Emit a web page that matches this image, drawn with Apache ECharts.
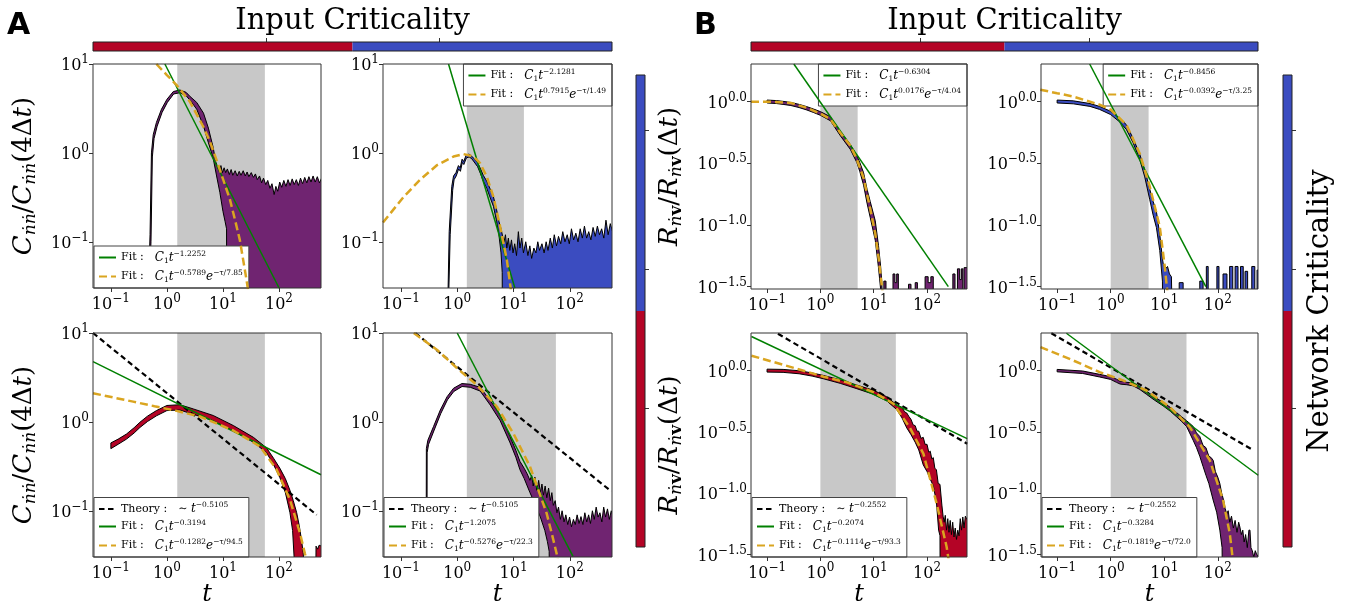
<!DOCTYPE html>
<html>
<head>
<meta charset="utf-8">
<script src="https://cdn.jsdelivr.net/npm/echarts@6.0.0/dist/echarts.min.js"></script>
<style>
  html, body { margin: 0; padding: 0; background: #fff; }
  #chart { width: 1351px; height: 616px; }
</style>
</head>
<body>
<div id="chart"></div>
<script>
var SERIF = 'DejaVu Serif';
var cRed = '#b40426', cBlue = '#3b4cc0', cPurple = '#702471';
var cGreen = '#008000', cGold = '#daa520', cSpan = '#c8c8c8';

// tick positions, as powers of ten
var xTickExp = [-1, 0, 1, 2];
var aYTickExp = [-1, 0, 1];
var bYTickExp = [-1.5, -1.0, -0.5, 0.0];

// numbers printed in the legends
var aPowExp = ['-1.2252', '-2.1281', '-0.3194', '-1.2075'];
var aCutExp = ['-0.5789', '0.7915', '-0.1282', '-0.5276'];
var aTau = ['7.85', '1.49', '94.5', '22.3'];
var aTheoryExp = '-0.5105';
var bPowExp = ['-0.6304', '-0.8456', '-0.2074', '-0.3284'];
var bCutExp = ['0.0176', '-0.0392', '-0.1114', '-0.1819'];
var bTau = ['4.04', '3.25', '93.3', '72.0'];
var bTheoryExp = '-0.2552';

// fit windows (grey)
var aSpan = [[1.53, 56], [1.48, 15.3], [1.53, 56], [1.48, 56.6]];
var bSpan = [[1.0, 5.0], [1.0, 5.1], [1.0, 26], [1.0, 26]];

// colour bars: share of red / blue, tick places
var cbarShare = [0.5, 0.5];
var cbarHTicks = [1 / 3, 2 / 3];
var cbarVTicks = [0.294, 0.589, 0.883];

// ---- A, top left (purple): upper / lower edge of the band, fits ----
var a11Up = [[0.46,0.02],[0.50,0.12],[0.53,1.0],[0.57,1.6],[0.65,2.2],[0.80,3.1],[1.0,4.0],[1.3,4.9],[1.7,5.1],[2.2,4.8],[2.6,4.3],[3.4,3.7],[4.5,2.8],[5.5,1.9],[6.7,1.15],[7.4,0.8],
  [8.0,0.70],[8.6,0.62],[9.2,0.72],[9.8,0.60],[10.5,0.68],[11.2,0.60],[12.0,0.66],[13.0,0.57],[14,0.65],[15,0.56],[16.5,0.63],[18,0.55],[19.5,0.62],[21,0.56],[23,0.63],[25,0.55],[27,0.61],[29,0.54],[32,0.60],[35,0.53],[38,0.58],[41,0.50],[45,0.55],[49,0.46],[53,0.52],[58,0.44],[63,0.49],[69,0.40],[75,0.45],[82,0.34],[88,0.42],[95,0.37],[103,0.47],[112,0.41],[122,0.49],[133,0.42],[145,0.50],[158,0.43],[172,0.51],[187,0.44],[204,0.50],[222,0.43],[242,0.52],[264,0.45],[288,0.53],[314,0.46],[342,0.54],[373,0.47],[406,0.55],[443,0.47],[483,0.54],[527,0.46],[575,0.52]];
var a11Lo = [[0.47,0.02],[0.52,0.10],[0.55,0.9],[0.59,1.45],[0.67,2.0],[0.82,2.85],[1.02,3.7],[1.32,4.6],[1.7,4.75],[2.2,4.4],[2.6,3.9],[3.4,3.1],[4.5,2.0],[5.5,1.3],[6.7,0.87],[7.7,0.55],[8.8,0.36],[10,0.22],[10.9,0.17],[11.6,0.14],[11.7,0.001],[575,0.001]];
var a11Fit = [[0.92,10],[101,0.030]];
var a11Cut = [[0.65,10],[1.0,7.5],[1.49,5.8],[2.57,3.77],[4.45,1.98],[5.86,1.34],[7.7,0.83],[13.3,0.30],[16.4,0.177],[20,0.105],[26.4,0.037],[28,0.029]];

// ---- A, top right (blue) ----
var a12Up = [[0.68,0.02],[0.72,0.13],[0.80,0.42],[0.86,0.55],[0.95,0.60],[1.05,0.72],[1.13,0.68],[1.22,0.85],[1.30,0.80],[1.45,0.95],[1.62,0.97],[1.80,0.92],[2.0,0.86],[2.3,0.78],[2.6,0.66],[2.9,0.56],[3.35,0.48],[3.8,0.40],[4.4,0.32],[5.0,0.23],[5.5,0.17],[6.0,0.14],[6.5,0.11],
  [6.8,0.10],[7.2,0.12],[7.6,0.085],[8.1,0.11],[8.6,0.08],[9.2,0.105],[9.8,0.075],[10.5,0.095],[11.3,0.07],[12.2,0.13],[13.0,0.085],[14,0.11],[15,0.075],[16.5,0.10],[18,0.07],[19.5,0.09],[21,0.065],[23,0.085],[25,0.075],[27,0.10],[29,0.08],[32,0.095],[35,0.075],[38,0.10],[41,0.08],[45,0.11],[49,0.085],[53,0.12],[58,0.09],[63,0.115],[69,0.095],[75,0.13],[82,0.10],[90,0.12],[98,0.095],[107,0.14],[117,0.105],[128,0.125],[140,0.10],[153,0.14],[167,0.11],[182,0.15],[199,0.11],[217,0.13],[237,0.105],[259,0.145],[283,0.115],[309,0.15],[337,0.12],[368,0.14],[402,0.11],[439,0.175],[480,0.12],[524,0.16],[575,0.13]];
var a12Lo = [[0.70,0.02],[0.75,0.12],[0.83,0.38],[0.88,0.50],[0.96,0.55],[1.06,0.66],[1.14,0.62],[1.23,0.78],[1.31,0.74],[1.46,0.88],[1.63,0.90],[1.81,0.86],[2.0,0.79],[2.3,0.70],[2.6,0.58],[2.9,0.48],[3.35,0.40],[3.8,0.32],[4.4,0.25],[5.0,0.17],[5.5,0.12],[6.0,0.075],[6.3,0.045],[6.4,0.001],[575,0.001]];
var a12Fit = [[0.70,10],[10.6,0.030]];
var a12Cut = [[0.048,0.165],[0.112,0.32],[0.22,0.50],[0.44,0.73],[0.86,0.91],[1.29,0.97],[1.95,0.91],[2.55,0.765],[3.35,0.54],[4.4,0.32],[5.77,0.149],[7.6,0.063],[8.9,0.030],[9.5,0.022]];

// ---- A, bottom left (red) ----
var a21Up = [[0.1,0.58],[0.135,0.64],[0.19,0.73],[0.26,0.86],[0.33,0.99],[0.45,1.16],[0.65,1.34],[1.0,1.53],[1.7,1.56],[2.95,1.40],[6.7,1.18],[15.3,0.91],[35,0.67],[60,0.51],[80,0.39],[104,0.30],[130,0.23],[157,0.17],[180,0.13],[207,0.095],[230,0.068],[252,0.047],[270,0.034],[285,0.02],[455,0.02],[458,0.040],[490,0.037],[520,0.041],[575,0.040]];
var a21Lo = [[0.1,0.50],[0.135,0.56],[0.19,0.64],[0.26,0.75],[0.33,0.865],[0.45,1.01],[0.65,1.17],[1.0,1.34],[1.7,1.36],[2.95,1.22],[6.7,1.03],[15.3,0.79],[35,0.59],[60,0.45],[80,0.33],[104,0.235],[130,0.16],[157,0.095],[175,0.06],[193,0.02],[575,0.001]];
var a21Fit = [[0.048,4.76],[562,0.254]];
var a21Cut = [[0.048,2.1],[0.25,1.69],[0.6,1.50],[1.49,1.33],[3.88,1.15],[15.3,0.80],[45.7,0.53],[91,0.29],[157,0.133],[237,0.056],[290,0.033],[310,0.028]];
var a21Theory = [[0.048,10],[470,0.090]];

// ---- A, bottom right (purple) ----
var a22Up = [[0.28,0.02],[0.283,0.50],[0.30,0.62],[0.38,0.89],[0.50,1.36],[0.66,1.92],[0.86,2.39],[1.21,2.70],[1.70,2.65],[2.55,2.45],[3.84,1.75],[5.77,1.20],[8.7,0.68],[11,0.48],[13,0.36],[15.5,0.30],[17.5,0.26],[19.6,0.22],
  [21,0.25],[22.4,0.19],[24,0.24],[26,0.17],[28,0.22],[30,0.16],[32,0.20],[34,0.15],[36.5,0.19],[39,0.14],[42,0.18],[45,0.13],[48,0.16],[51,0.115],[55,0.13],[59,0.095],[63,0.11],[68,0.08],[73,0.10],[79,0.075],[85,0.09],[92,0.07],[99,0.085],[107,0.066],[116,0.08],[125,0.07],[135,0.09],[146,0.072],[158,0.086],[171,0.07],[185,0.095],[200,0.075],[216,0.09],[233,0.072],[252,0.10],[272,0.08],[294,0.11],[318,0.085],[343,0.095],[371,0.075],[400,0.11],[432,0.085],[467,0.105],[504,0.08],[545,0.10],[575,0.09]];
var a22Lo = [[0.29,0.02],[0.292,0.45],[0.31,0.56],[0.39,0.81],[0.51,1.24],[0.67,1.77],[0.87,2.2],[1.22,2.5],[1.71,2.45],[2.56,2.22],[3.85,1.55],[5.8,1.03],[8.7,0.58],[11,0.40],[13,0.29],[15.5,0.23],[19.6,0.16],[24,0.12],[30,0.085],[36,0.06],[40,0.045],[43,0.035],[44.5,0.001],[575,0.001]];
var a22Fit = [[1.0,10],[114,0.0307]];
var a22Cut = [[0.169,10],[0.44,6.44],[1.0,4.0],[2.23,2.6],[5.04,1.49],[9.9,0.746],[19.6,0.315],[38.7,0.094],[48,0.055],[58,0.0335],[62,0.027]];
var a22Theory = [[0.18,10],[547,0.165]];

// ---- B, top left (purple) ----
var b11Up = [[0.1,1.03],[0.15,1.02],[0.2,1.005],[0.28,0.985],[0.4,0.95],[0.56,0.91],[0.75,0.87],[1.0,0.83],[1.54,0.755],[2.36,0.575],[3.64,0.45],[4.84,0.365],[5.5,0.32],[6.46,0.265],[7.5,0.195],[8.6,0.155],[10.7,0.108],[12.3,0.068],[13.5,0.046],[14.2,0.034],[14.8,0.02],
  [15.5,0.001],[15.5,0.035],[17,0.035],[17,0.001],
  [23,0.001],[23,0.040],[25,0.040],[25,0.034],[27,0.034],[27,0.040],[29,0.040],[29,0.001],
  [45,0.001],[45,0.033],[50,0.033],[50,0.001],
  [60,0.001],[60,0.034],[66,0.034],[66,0.001],
  [92,0.001],[92,0.038],[105,0.038],[105,0.034],[118,0.034],[118,0.038],[131,0.038],[131,0.001],
  [305,0.001],[305,0.040],[335,0.040],[335,0.001],
  [372,0.001],[372,0.044],[410,0.044],[410,0.036],[440,0.036],[440,0.044],[470,0.044],[470,0.001],
  [495,0.001],[495,0.045],[575,0.045]];
var b11Lo = [[0.1,0.975],[0.15,0.965],[0.2,0.95],[0.28,0.93],[0.4,0.895],[0.56,0.855],[0.75,0.815],[1.0,0.775],[1.54,0.70],[2.36,0.53],[3.64,0.41],[4.84,0.32],[5.5,0.27],[6.46,0.21],[7.5,0.15],[8.6,0.115],[10.7,0.075],[12.3,0.045],[13.5,0.03],[14,0.001],[575,0.001]];
var b11Fit = [[0.318,2.02],[251,0.0316]];
var b11Cut = [[0.05,1.0],[0.1,1.0],[0.28,0.975],[0.56,0.89],[1.0,0.80],[1.54,0.72],[2.36,0.56],[3.64,0.44],[4.84,0.34],[6.46,0.24],[8.6,0.135],[10.7,0.085],[12.3,0.055],[14.2,0.032],[15,0.026]];

// ---- B, top right (blue) ----
var b12Up = [[0.1,1.03],[0.2,1.015],[0.41,0.965],[0.62,0.915],[1.0,0.835],[1.47,0.735],[1.96,0.65],[2.61,0.505],[3.48,0.375],[4.32,0.28],[5.36,0.195],[6.2,0.155],[7.14,0.128],[8.24,0.084],[9.25,0.053],[9.6,0.048],[10.5,0.044],[11.5,0.046],[12.5,0.040],[13.6,0.038],[14,0.02],
  [19,0.001],[19,0.034],[22.5,0.034],[22.5,0.001],
  [46,0.001],[46,0.035],[53,0.035],[53,0.001],
  [61,0.001],[61,0.046],[66,0.046],[66,0.001],
  [96,0.001],[96,0.046],[105,0.046],[105,0.001],
  [125,0.001],[125,0.040],[148,0.040],[148,0.001],
  [166,0.001],[166,0.046],[190,0.046],[190,0.001],
  [210,0.001],[210,0.046],[238,0.046],[238,0.001],
  [265,0.001],[265,0.046],[298,0.046],[298,0.001],
  [322,0.001],[322,0.042],[360,0.042],[360,0.001],
  [430,0.001],[430,0.046],[490,0.046],[490,0.001],
  [540,0.001],[540,0.043],[575,0.043]];
var b12Lo = [[0.1,0.975],[0.2,0.96],[0.41,0.915],[0.62,0.865],[1.0,0.785],[1.47,0.685],[1.96,0.595],[2.61,0.465],[3.48,0.34],[4.32,0.245],[5.36,0.16],[6.2,0.12],[7.14,0.095],[8.24,0.062],[9.25,0.035],[9.4,0.001],[575,0.001]];
var b12Fit = [[0.405,2.02],[59.7,0.0316]];
var b12Cut = [[0.0485,1.25],[0.1,1.17],[0.2,1.10],[0.62,0.945],[1.0,0.86],[1.96,0.65],[3.48,0.38],[5.36,0.205],[8.24,0.097],[10.2,0.046],[11.3,0.030],[12,0.024]];

// ---- B, bottom left (red) ----
var b21Up = [[0.1,1.025],[0.2,1.02],[0.4,0.995],[0.7,0.955],[1.15,0.91],[2.36,0.84],[4.84,0.76],[9.9,0.69],[17.6,0.61],[27,0.525],[34,0.50],[38,0.46],[41.7,0.45],[46,0.42],[50,0.40],[55,0.36],[60,0.355],[65,0.32],[70,0.32],[77,0.28],[85,0.285],[92,0.25],[100,0.25],[108,0.215],[115,0.22],[123,0.19],[131,0.195],[140,0.16],[150,0.155],[162,0.12],[175,0.118],[190,0.08],[200,0.065],
  [210,0.058],[220,0.066],[232,0.05],[245,0.062],[258,0.048],[272,0.06],[287,0.046],[303,0.058],[320,0.044],[338,0.052],[357,0.042],[377,0.05],[398,0.045],[420,0.062],[444,0.05],[469,0.064],[495,0.052],[523,0.065],[575,0.06]];
var b21Lo = [[0.1,0.97],[0.2,0.965],[0.4,0.94],[0.7,0.90],[1.15,0.855],[2.36,0.785],[4.84,0.71],[9.9,0.64],[17.6,0.565],[27,0.48],[34,0.41],[41.7,0.34],[50,0.30],[60,0.26],[70,0.225],[85,0.17],[100,0.15],[115,0.13],[131,0.115],[150,0.085],[165,0.05],[175,0.045],[180,0.001],[575,0.001]];
var b21Fit = [[0.051,1.89],[566,0.278]];
var b21Cut = [[0.051,1.32],[0.134,1.17],[0.37,1.03],[1.15,0.89],[3.15,0.80],[9.9,0.667],[23.4,0.536],[48,0.34],[85.5,0.21],[152,0.082],[233,0.0366],[250,0.030],[262,0.026]];
var b21Theory = [[0.16,1.99],[566,0.253]];

// ---- B, bottom right (purple) ----
var b22Up = [[0.1,1.02],[0.3,0.99],[0.62,0.93],[1.0,0.89],[1.28,0.85],[1.5,0.815],[1.7,0.82],[2.0,0.80],[2.61,0.795],[3.5,0.74],[4.64,0.68],[6.5,0.61],[9.5,0.55],[13,0.50],[16.9,0.455],[21,0.42],[26,0.39],[30,0.37],[34.6,0.35],[40,0.31],[46,0.29],[53,0.245],[60,0.235],[68,0.20],[75,0.195],[82,0.185],[90,0.15],[100,0.135],[109,0.12],[118,0.10],[128,0.088],[137,0.075],[146,0.068],
  [156,0.072],[167,0.058],[180,0.065],[195,0.052],[210,0.06],[228,0.048],[245,0.058],[258,0.053],[275,0.046],[292,0.05],[310,0.04],[330,0.046],[355,0.036],[380,0.05],[398,0.05],[415,0.036],[440,0.034],[470,0.03],[500,0.034],[527,0.032],[575,0.03]];
var b22Lo = [[0.1,0.975],[0.3,0.945],[0.62,0.885],[1.0,0.845],[1.28,0.80],[1.5,0.775],[1.7,0.77],[2.0,0.765],[2.61,0.75],[3.5,0.70],[4.64,0.64],[6.5,0.575],[9.5,0.515],[13,0.465],[16.9,0.42],[21,0.385],[26,0.35],[34.6,0.27],[40,0.235],[46,0.20],[53,0.165],[60,0.14],[68,0.12],[81.7,0.088],[95,0.07],[109,0.05],[120,0.036],[128,0.001],[575,0.001]];
var b22Fit = [[0.149,2.01],[567,0.14]];
var b22Cut = [[0.049,1.55],[0.197,1.21],[0.62,0.97],[1.7,0.83],[4.64,0.687],[12.7,0.503],[30,0.346],[70.8,0.185],[125,0.088],[167,0.047],[185,0.032],[195,0.026]];
var b22Theory = [[0.078,2.01],[457,0.224]];

// ------------------------------------------------------------------
function pow10(e) { return Math.pow(10, e); }
function minus(s) { return String(s).replace('-', '\u2212'); }

var tickRich = {
  b: { fontFamily: SERIF, fontSize: 16, lineHeight: 20, verticalAlign: 'bottom', color: '#000' },
  s: { fontFamily: SERIF, fontSize: 12, lineHeight: 12, verticalAlign: 'top', color: '#000' }
};
function intLabel(v) { return '{b|10}{s|' + minus(Math.round(Math.log10(v))) + '}'; }
function decLabel(v) { return '{b|10}{s|' + minus(Math.log10(v).toFixed(1)) + '}'; }

var legRich = {
  r: { fontFamily: SERIF, fontSize: 11, lineHeight: 15, color: '#000' },
  i: { fontFamily: SERIF, fontStyle: 'italic', fontSize: 12, lineHeight: 15, color: '#000' },
  sb: { fontFamily: SERIF, fontSize: 7.5, lineHeight: 8, verticalAlign: 'bottom', color: '#000' },
  sp: { fontFamily: SERIF, fontSize: 7.5, lineHeight: 9, verticalAlign: 'top', color: '#000' },
  g: { width: 11 }
};
var legendText = {};
function fitName(p) {
  var n = 'Fit C1 t^' + p;
  legendText[n] = '{r|Fit :}{g| }{i|C}{sb|1}{i|t}{sp|' + minus(p) + '}';
  return n;
}
function cutName(p, tau) {
  var n = 'Fit C1 t^' + p + ' e^-t/' + tau;
  legendText[n] = '{r|Fit :}{g| }{i|C}{sb|1}{i|t}{sp|' + minus(p) + '}{i|e}{sp|\u2212\u03c4/' + tau + '}';
  return n;
}
function theoryName(p) {
  var n = 'Theory ~ t^' + p;
  legendText[n] = '{r|Theory :}{g| }{r|\u223c }{i|t}{sp|' + minus(p) + '}';
  return n;
}

var yRich = {
  i: { fontFamily: SERIF, fontStyle: 'italic', fontSize: 26, lineHeight: 30, color: '#000' },
  r: { fontFamily: SERIF, fontSize: 26, lineHeight: 30, color: '#000' },
  sb: { fontFamily: SERIF, fontStyle: 'italic', fontSize: 17, lineHeight: 16, verticalAlign: 'bottom', color: '#000' },
  sv: { fontFamily: SERIF, fontWeight: 'bold', fontSize: 17, lineHeight: 16, verticalAlign: 'bottom', color: '#000' }
};
var yNameA = '{i|C}{sb|\u1e45\u1e45}{r|/}{i|C}{sb|\u1e45\u1e45}{r|(4\u0394}{i|t}{r|)}';
var yNameB = '{i|R}{sb|\u1e45}{sv|v}{r|/}{i|R}{sb|\u1e45}{sv|v}{r|(\u0394}{i|t}{r|)}';

var panels = [
  { rect: {left: 93, top: 64, width: 228, height: 224}, B: false, bottom: false, first: true,
    up: a11Up, lo: a11Lo, color: cPurple, fit: a11Fit, cut: a11Cut, theory: null, span: aSpan[0],
    pw: aPowExp[0], ce: aCutExp[0], tau: aTau[0], leg: {left: 94, bottom: 328} },
  { rect: {left: 383, top: 64, width: 229, height: 224}, B: false, bottom: false, first: false,
    up: a12Up, lo: a12Lo, color: cBlue, fit: a12Fit, cut: a12Cut, theory: null, span: aSpan[1],
    pw: aPowExp[1], ce: aCutExp[1], tau: aTau[1], leg: {right: 739, top: 64} },
  { rect: {left: 93, top: 333, width: 228, height: 224}, B: false, bottom: true, first: true,
    up: a21Up, lo: a21Lo, color: cRed, fit: a21Fit, cut: a21Cut, theory: a21Theory, span: aSpan[2],
    pw: aPowExp[2], ce: aCutExp[2], tau: aTau[2], th: aTheoryExp, leg: {left: 94, bottom: 59} },
  { rect: {left: 383, top: 333, width: 229, height: 224}, B: false, bottom: true, first: false,
    up: a22Up, lo: a22Lo, color: cPurple, fit: a22Fit, cut: a22Cut, theory: a22Theory, span: aSpan[3],
    pw: aPowExp[3], ce: aCutExp[3], tau: aTau[3], th: aTheoryExp, leg: {left: 384, bottom: 59} },
  { rect: {left: 751, top: 64, width: 216, height: 225}, B: true, bottom: false, first: true,
    up: b11Up, lo: b11Lo, color: cPurple, fit: b11Fit, cut: b11Cut, theory: null, span: bSpan[0],
    pw: bPowExp[0], ce: bCutExp[0], tau: bTau[0], leg: {right: 384, top: 64} },
  { rect: {left: 1041, top: 64, width: 217, height: 225}, B: true, bottom: false, first: false,
    up: b12Up, lo: b12Lo, color: cBlue, fit: b12Fit, cut: b12Cut, theory: null, span: bSpan[1],
    pw: bPowExp[1], ce: bCutExp[1], tau: bTau[1], leg: {right: 93, top: 64} },
  { rect: {left: 751, top: 333, width: 216, height: 224}, B: true, bottom: true, first: true,
    up: b21Up, lo: b21Lo, color: cRed, fit: b21Fit, cut: b21Cut, theory: b21Theory, span: bSpan[2],
    pw: bPowExp[2], ce: bCutExp[2], tau: bTau[2], th: bTheoryExp, leg: {left: 752, bottom: 59} },
  { rect: {left: 1041, top: 333, width: 217, height: 224}, B: true, bottom: true, first: false,
    up: b22Up, lo: b22Lo, color: cPurple, fit: b22Fit, cut: b22Cut, theory: b22Theory, span: bSpan[3],
    pw: bPowExp[3], ce: bCutExp[3], tau: bTau[3], th: bTheoryExp, leg: {left: 1042, bottom: 59} }
];

function spanSeries(gi, span) {
  return {
    type: 'custom', xAxisIndex: gi, yAxisIndex: gi, silent: true, z: 1, clip: true,
    data: [span],
    renderItem: function (params, api) {
      var cs = params.coordSys;
      var x0 = api.coord([api.value(0), 1])[0];
      var x1 = api.coord([api.value(1), 1])[0];
      return { type: 'rect', shape: { x: x0, y: cs.y, width: x1 - x0, height: cs.height }, style: { fill: cSpan } };
    }
  };
}
function bandSeries(gi, up, lo, color) {
  return {
    type: 'custom', xAxisIndex: gi, yAxisIndex: gi, silent: true, z: 2, clip: true,
    data: up,
    renderItem: function (params, api) {
      if (params.dataIndex !== 0) return null;
      var pts = up.map(function (p) { return api.coord(p); });
      for (var k = lo.length - 1; k >= 0; k--) pts.push(api.coord(lo[k]));
      return { type: 'polygon', shape: { points: pts },
        style: { fill: color, stroke: '#000', lineWidth: 1, lineJoin: 'round' } };
    }
  };
}
function lineSeries(gi, name, pts, color, width, dash, z) {
  return {
    type: 'line', name: name, xAxisIndex: gi, yAxisIndex: gi, data: pts,
    symbol: 'none', showSymbol: false, z: z, clip: true, silent: true,
    lineStyle: { color: color, width: width, type: dash || 'solid' },
    itemStyle: { color: color }
  };
}

var option = {
  animation: false,
  backgroundColor: '#fff',
  textStyle: { fontFamily: SERIF },
  title: [
    { text: 'A', left: 7, top: 11, padding: 0, textStyle: { fontFamily: 'DejaVu Sans', fontWeight: 'bold', fontSize: 30, color: '#000' } },
    { text: 'B', left: 694, top: 11, padding: 0, textStyle: { fontFamily: 'DejaVu Sans', fontWeight: 'bold', fontSize: 30, color: '#000' } }
  ],
  grid: [], xAxis: [], yAxis: [], legend: [], series: []
};

var xTicks = xTickExp.map(pow10);
var aYTicks = aYTickExp.map(pow10);
var bYTicks = bYTickExp.map(pow10);

panels.forEach(function (p, gi) {
  option.grid.push(Object.assign({ show: true, borderColor: '#333', borderWidth: 1,
    backgroundColor: 'rgba(0,0,0,0)', z: 10, containLabel: false, outerBoundsMode: 'none' }, p.rect));
  option.xAxis.push({
    type: 'log', logBase: 10, gridIndex: gi, min: p.B ? 0.05 : 0.048, max: 562,
    axisLine: { show: false }, splitLine: { show: false },
    axisTick: { show: true, length: 4, customValues: xTicks, lineStyle: { color: '#333' } },
    axisLabel: { customValues: xTicks, formatter: intLabel, margin: 5, rich: tickRich },
    name: p.bottom ? 't' : '', nameLocation: 'middle', nameGap: 26,
    nameTextStyle: { fontFamily: SERIF, fontStyle: 'italic', fontSize: 24, color: '#000' }
  });
  var yt = p.B ? bYTicks : aYTicks;
  option.yAxis.push({
    type: 'log', logBase: 10, gridIndex: gi, min: 0.0302, max: p.B ? 2.02 : 10,
    axisLine: { show: false }, splitLine: { show: false },
    axisTick: { show: true, length: 4, customValues: yt, lineStyle: { color: '#333' } },
    axisLabel: { customValues: yt, formatter: p.B ? decLabel : intLabel, margin: 4, rich: tickRich },
    name: p.first ? (p.B ? yNameB : yNameA) : '', nameLocation: 'middle', nameGap: p.B ? 66 : 54,
    nameTextStyle: { rich: yRich }
  });
  option.series.push(spanSeries(gi, p.span));
  option.series.push(bandSeries(gi, p.up, p.lo, p.color));
  var names = [];
  if (p.theory) {
    var tn = theoryName(p.th);
    option.series.push(lineSeries(gi, tn, p.theory, '#000', 2.2, [5.5, 3.5], 3));
    names.push(tn);
  }
  var fn = fitName(p.pw);
  option.series.push(lineSeries(gi, fn, p.fit, cGreen, 1.5, null, 4));
  names.push(fn);
  var cn = cutName(p.ce, p.tau);
  option.series.push(lineSeries(gi, cn, p.cut, cGold, 2.5, [8, 4], 5));
  names.push(cn);
  option.legend.push(Object.assign({
    orient: 'vertical', data: names, selectedMode: false,
    itemWidth: 17, itemHeight: 10, itemGap: 4, padding: [4, 6, 4, 4],
    backgroundColor: '#fff', borderColor: '#444', borderWidth: 1, borderRadius: 0,
    itemStyle: { color: 'rgba(0,0,0,0)', borderColor: 'rgba(0,0,0,0)', borderWidth: 0 },
    formatter: function (n) { return legendText[n]; },
    textStyle: { color: '#000', rich: legRich }
  }, p.leg));
});

// colour bars: horizontal (input) and vertical (network) for A and B
var cbars = [
  { h: {left: 93, top: 42, width: 519, height: 9}, v: {left: 636, top: 75, width: 9, height: 472}, vName: '' },
  { h: {left: 751, top: 42, width: 507, height: 9}, v: {left: 1283, top: 75, width: 9, height: 472}, vName: 'Network Criticality' }
];
cbars.forEach(function (c, k) {
  var gh = option.grid.length;
  option.grid.push(Object.assign({ show: true, borderColor: '#222', borderWidth: 1, backgroundColor: 'rgba(0,0,0,0)', z: 10, outerBoundsMode: 'none' }, c.h));
  option.xAxis.push({ type: 'value', gridIndex: gh, min: 0, max: 1, position: 'top',
    axisLine: { show: false }, splitLine: { show: false }, axisLabel: { show: false },
    axisTick: { show: true, length: 4, customValues: cbarHTicks, lineStyle: { color: '#333' } },
    name: 'Input Criticality', nameLocation: 'middle', nameGap: 6,
    nameTextStyle: { fontFamily: SERIF, fontSize: 29, color: '#000' } });
  option.yAxis.push({ type: 'category', gridIndex: gh, data: ['input'], show: false });
  option.series.push({ type: 'bar', xAxisIndex: gh, yAxisIndex: gh, stack: 'h' + k, barWidth: '100%', silent: true,
    data: [cbarShare[0]], itemStyle: { color: cRed } });
  option.series.push({ type: 'bar', xAxisIndex: gh, yAxisIndex: gh, stack: 'h' + k, barWidth: '100%', silent: true,
    data: [cbarShare[1]], itemStyle: { color: cBlue } });

  var gv = option.grid.length;
  option.grid.push(Object.assign({ show: true, borderColor: '#222', borderWidth: 1, backgroundColor: 'rgba(0,0,0,0)', z: 10, outerBoundsMode: 'none' }, c.v));
  option.xAxis.push({ type: 'category', gridIndex: gv, data: ['network'], show: false });
  option.yAxis.push({ type: 'value', gridIndex: gv, min: 0, max: 1, position: 'right',
    axisLine: { show: false }, splitLine: { show: false }, axisLabel: { show: false },
    axisTick: { show: true, length: 4, customValues: cbarVTicks, lineStyle: { color: '#333' } },
    name: c.vName, nameLocation: 'middle', nameGap: 14,
    nameTextStyle: { fontFamily: SERIF, fontSize: 29, color: '#000' } });
  option.series.push({ type: 'bar', xAxisIndex: gv, yAxisIndex: gv, stack: 'v' + k, barWidth: '100%', silent: true,
    data: [cbarShare[0]], itemStyle: { color: cRed } });
  option.series.push({ type: 'bar', xAxisIndex: gv, yAxisIndex: gv, stack: 'v' + k, barWidth: '100%', silent: true,
    data: [cbarShare[1]], itemStyle: { color: cBlue } });
});

var chart = echarts.init(document.getElementById('chart'));
chart.setOption(option);
</script>
</body>
</html>
